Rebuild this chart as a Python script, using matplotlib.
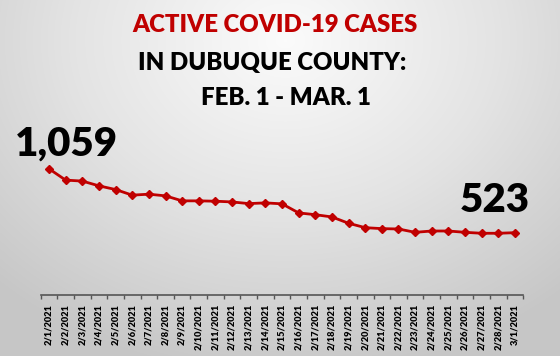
import numpy as np
import matplotlib
matplotlib.use("Agg")
import matplotlib.pyplot as plt
from matplotlib.colors import LinearSegmentedColormap

dates = ["2/1/2021", "2/2/2021", "2/3/2021", "2/4/2021", "2/5/2021", "2/6/2021",
         "2/7/2021", "2/8/2021", "2/9/2021", "2/10/2021", "2/11/2021", "2/12/2021",
         "2/13/2021", "2/14/2021", "2/15/2021", "2/16/2021", "2/17/2021", "2/18/2021",
         "2/19/2021", "2/20/2021", "2/21/2021", "2/22/2021", "2/23/2021", "2/24/2021",
         "2/25/2021", "2/26/2021", "2/27/2021", "2/28/2021", "3/1/2021"]
active_cases = [1059, 964, 956, 916, 885, 838, 846, 832, 790, 790, 787, 781,
                767, 773, 765, 689, 674, 655, 602, 565, 557, 554, 526, 537,
                537, 526, 518, 518, 523]
title_lines = ["ACTIVE COVID-19 CASES", "IN DUBUQUE COUNTY:", "FEB. 1 - MAR. 1"]

W, H = 560, 356
fig = plt.figure(figsize=(W / 100, H / 100), dpi=100)

# background radial gradient
bg = fig.add_axes([0, 0, 1, 1])
yy, xx = np.mgrid[0:H, 0:W]
r = np.sqrt(((xx - 285) / 420.0) ** 2 + ((yy - 40) / 340.0) ** 2)
r = np.clip(r, 0, 1)
cmap = LinearSegmentedColormap.from_list("bg", ["#fbfbfb", "#e4e4e4", "#c6c6c6"])
bg.imshow(r, cmap=cmap, vmin=0, vmax=1, aspect="auto", extent=[0, W, H, 0])
bg.set_xlim(0, W)
bg.set_ylim(H, 0)
bg.axis("off")

font = "Lato"
cols = ["#c00000", "#000000", "#000000"]
ys = [25.5, 63, 98]
xs = [275, 272, 286]
for txt, c, xc, y in zip(title_lines, cols, xs, ys):
    bg.text(xc, y, txt, color=c, fontsize=17.3, fontweight="heavy", family=font,
            ha="center", va="center")

ax = fig.add_axes([40.7 / W, 61 / H, (523.3 - 40.7) / W, (204 - 61) / H])
ax.patch.set_alpha(0)
x = np.arange(len(dates))
ax.plot(x, active_cases, color="#c00000", lw=2, marker="D", ms=4.5, mec="#c00000",
        mfc="#c00000", zorder=3, clip_on=False)
ax.set_xlim(-0.5, len(dates) - 0.5)
ax.set_ylim(0, 1200)
for s in ["top", "right", "left"]:
    ax.spines[s].set_visible(False)
ax.spines["bottom"].set_color("#555555")
ax.spines["bottom"].set_linewidth(1.2)
ax.set_yticks([])
ax.set_xticks(x)
ax.set_xticklabels(dates, rotation=90, fontsize=6.7, fontweight="heavy", family=font)
ax.tick_params(axis="x", length=0, pad=6.5)
ax.set_xticks(np.arange(-0.5, len(dates)), minor=True)
ax.tick_params(axis="x", which="minor", length=3, color="#555555", width=1)

ax.annotate(f"{active_cases[0]:,}", (x[0], active_cases[0]), xytext=(66.5, 144),
            textcoords=bg.transData, fontsize=29, fontweight="heavy", family=font,
            ha="center", va="center", color="#000000")
ax.annotate(f"{active_cases[-1]:,}", (x[-1], active_cases[-1]), xytext=(495, 200),
            textcoords=bg.transData, fontsize=29, fontweight="heavy", family=font,
            ha="center", va="center", color="#000000")

fig.savefig("out.png", dpi=100)
